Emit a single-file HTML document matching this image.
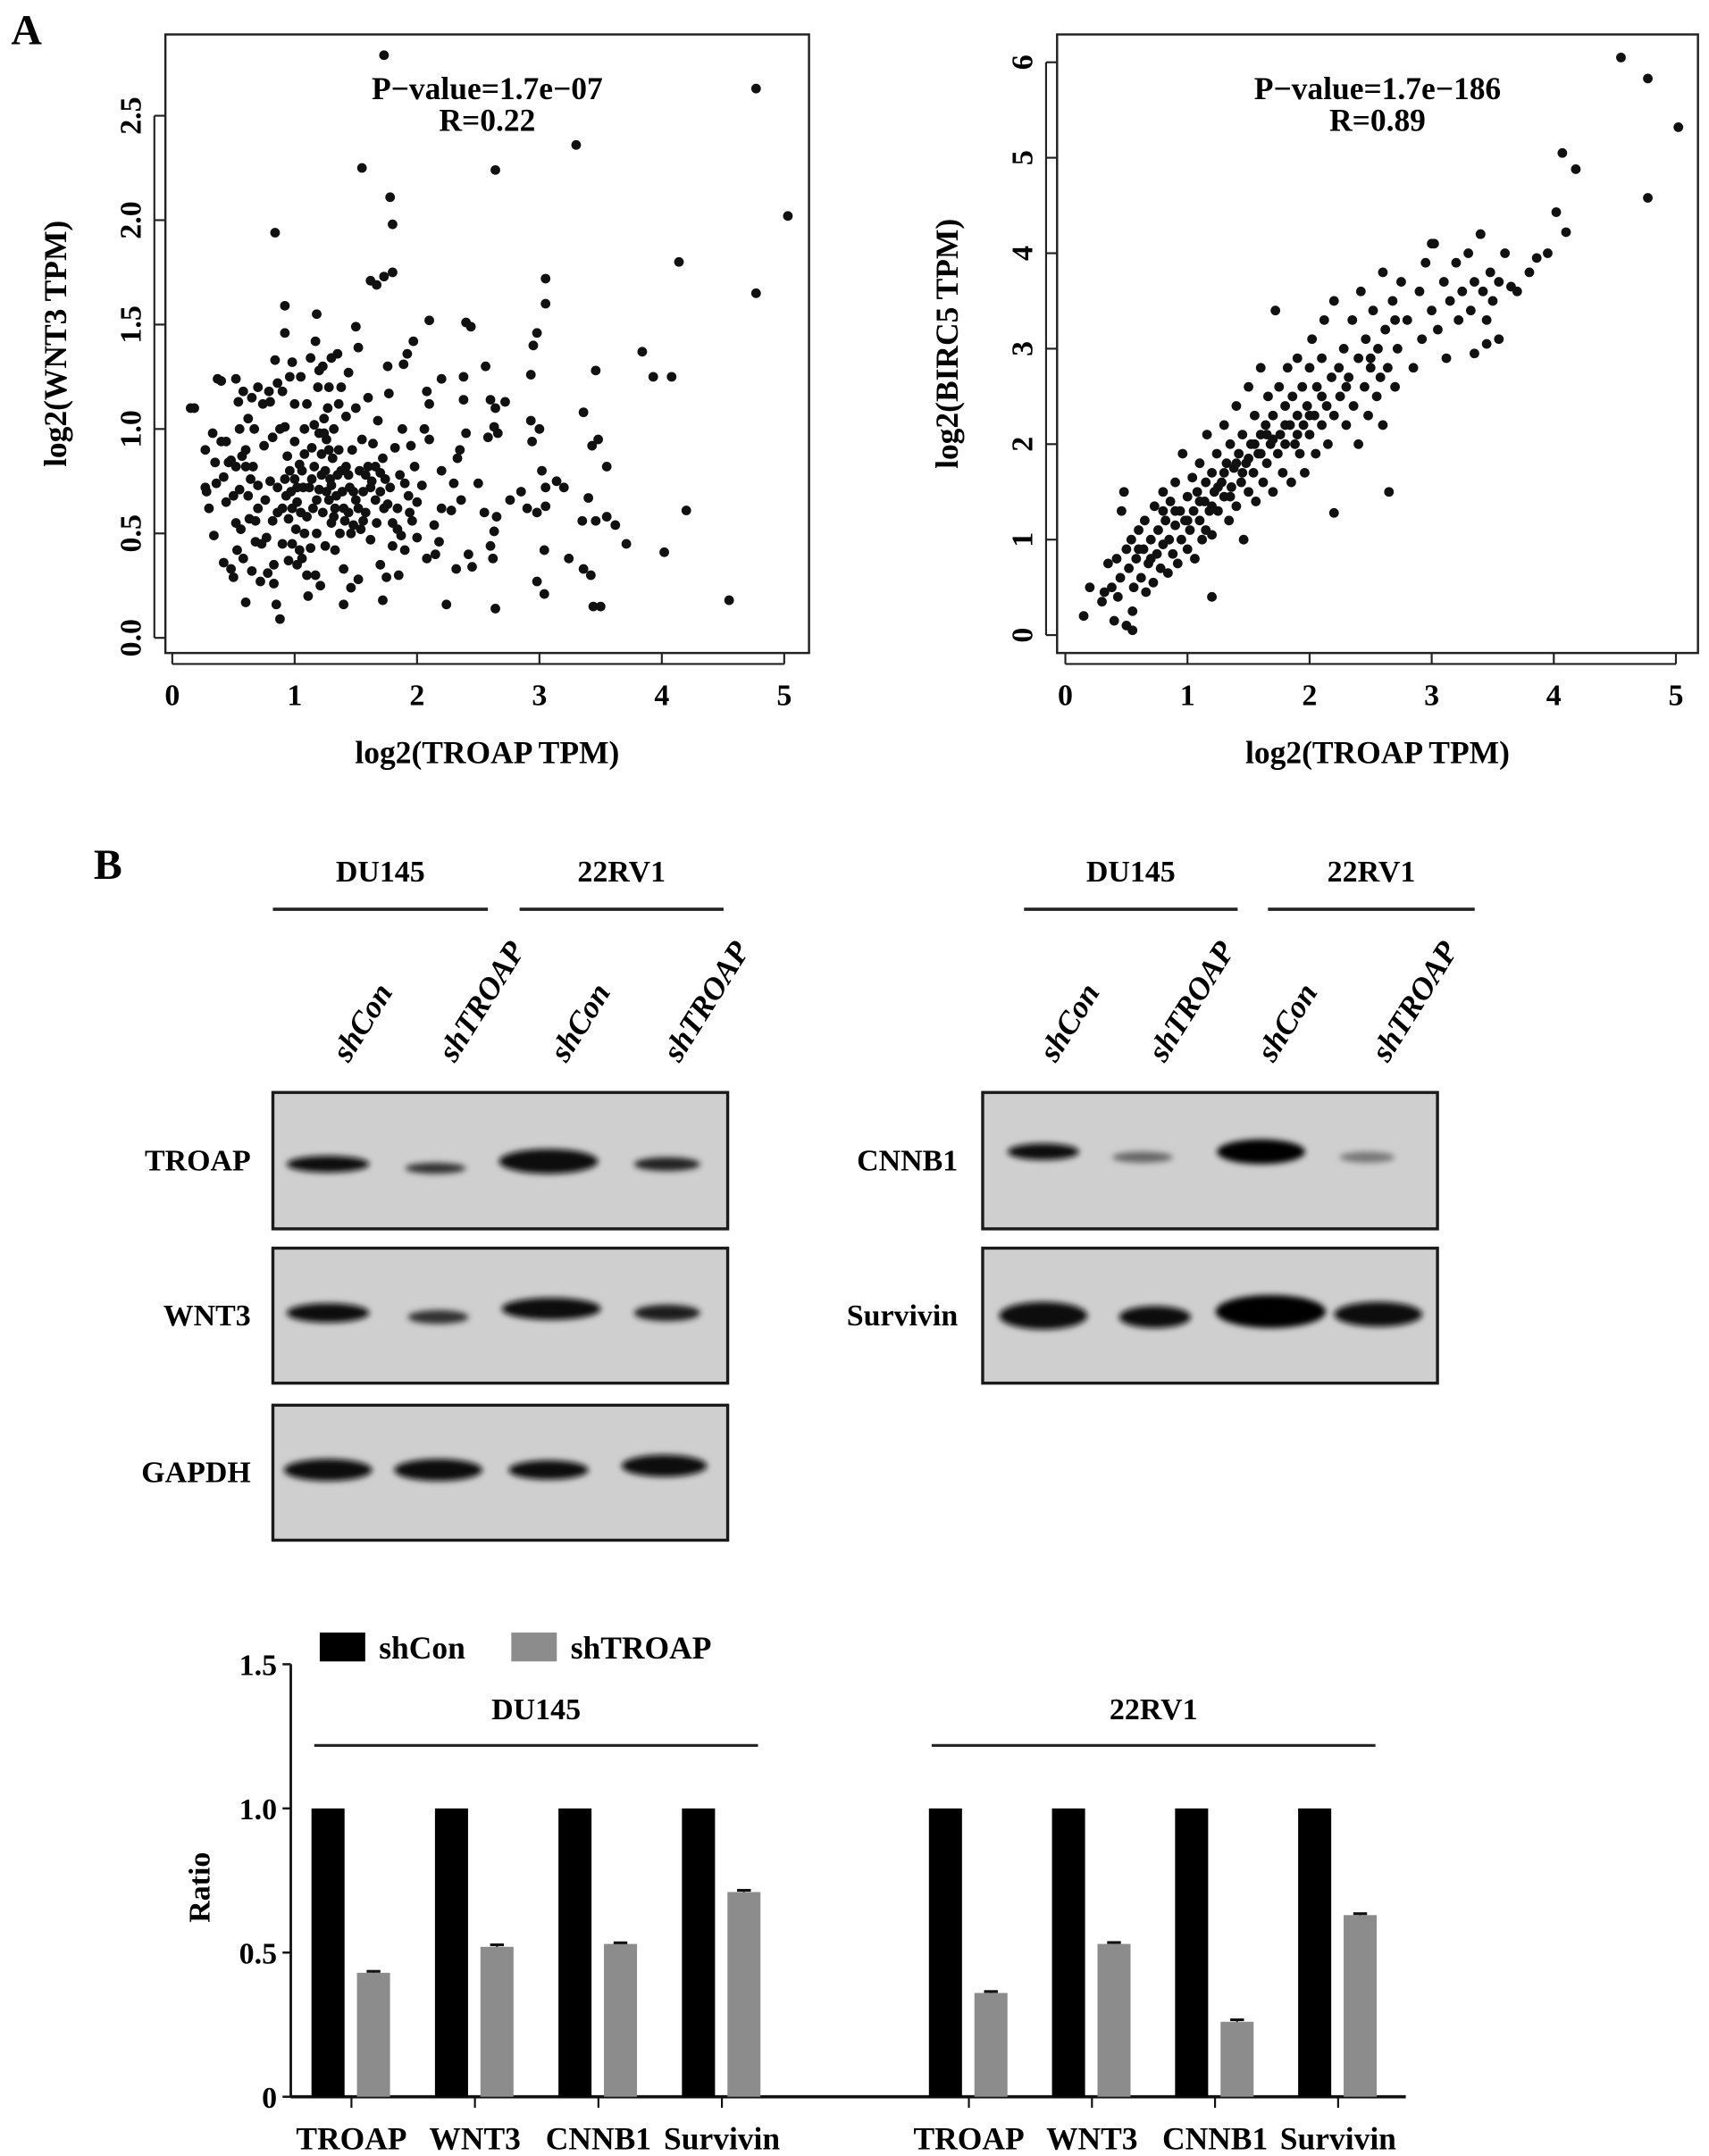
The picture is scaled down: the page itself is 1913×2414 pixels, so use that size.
<!DOCTYPE html>
<html><head><meta charset="utf-8"><style>
html,body{margin:0;padding:0;background:#fff;}
svg{display:block;font-family:"Liberation Serif",serif;font-weight:bold;}
</style></head><body>
<svg id="fig" width="1913" height="2414" viewBox="0 0 1240 1565" preserveAspectRatio="none" xmlns="http://www.w3.org/2000/svg">
<defs>
<filter id="blur" x="-30%" y="-80%" width="160%" height="260%"><feGaussianBlur stdDeviation="2.2"/></filter>
</defs>
<text x="8" y="32" font-size="31">A</text>
<text x="68" y="638" font-size="31">B</text>
<g id="scatterL"></g>
<g id="scatterR"></g>
<g id="blots"></g>
<g id="bars"></g>
</svg>
<script>
const NS="http://www.w3.org/2000/svg";
function mk(parent,tag,attrs,text){const e=document.createElementNS(NS,tag);for(const k in attrs)e.setAttribute(k,attrs[k]);if(text!==undefined)e.textContent=text;parent.appendChild(e);return e;}

// ---------- Scatter data ----------
const leftPoints=[1.73,2.79,4.77,2.63,3.3,2.36,1.55,2.25,2.64,2.24,1.78,2.11,1.8,1.98,5.03,2.02,0.84,1.94,4.14,1.8,1.8,1.75,1.73,1.73,3.05,1.72,1.62,1.71,1.67,1.69,4.77,1.65,3.05,1.6,0.92,1.59,2.1,1.52,1.18,1.55,1.5,1.49,2.4,1.51,2.44,1.49,2.98,1.46,0.92,1.46,3.84,1.37,3.93,1.25,4.08,1.25,3.46,1.28,4.2,0.61,4.02,0.41,4.55,0.18,3.71,0.45,3.62,0.54,3.55,0.58,3.55,0.82,3.48,0.95,3.43,0.92,3.36,1.08,3.4,0.67,3.35,0.56,3.46,0.56,3.42,0.3,3.44,0.15,3.5,0.15,3.36,0.33,3.24,0.38,3.2,0.72,3.14,0.75,3.05,0.72,3.05,0.63,3.04,0.42,3.02,0.8,3.0,1.0,2.94,0.94,2.93,1.04,2.93,1.26,2.95,1.4,2.98,0.6,2.9,0.62,2.98,0.27,3.04,0.21,2.85,0.7,2.76,0.66,2.72,1.13,2.66,0.98,2.63,1.01,2.65,0.58,2.63,0.51,2.62,0.38,2.64,0.14,2.6,0.44,2.58,0.96,2.56,1.3,2.6,1.14,2.64,1.1,2.5,0.74,2.55,0.6,2.45,0.34,2.42,0.4,2.4,0.98,2.38,1.25,2.38,1.14,2.35,0.9,2.33,0.86,2.36,0.66,2.3,0.74,2.28,0.61,2.32,0.33,2.24,0.16,2.2,0.8,2.2,0.62,2.18,0.46,2.14,0.54,2.15,0.4,2.08,0.38,2.1,1.12,2.08,1.18,2.06,1.0,2.04,0.73,2.1,0.95,2.2,1.24,
0.15,1.1,0.18,1.1,0.27,0.9,0.27,0.72,0.28,0.7,0.3,0.62,0.33,0.98,0.34,0.49,0.35,0.84,0.36,0.74,0.37,1.24,0.4,1.23,0.4,0.94,0.42,0.36,0.42,0.77,0.44,0.94,0.44,0.65,0.46,0.84,0.48,0.85,0.48,0.33,0.5,0.29,0.5,0.68,0.52,1.24,0.52,0.82,0.52,0.55,0.53,0.42,0.54,1.13,0.55,1.0,0.55,0.71,0.56,0.52,0.57,0.87,0.58,1.18,0.58,0.38,0.6,0.17,0.6,0.9,0.62,1.05,0.62,0.68,0.63,0.57,0.65,1.15,0.65,0.32,0.66,0.82,0.67,1.0,0.68,0.46,0.68,0.56,0.7,1.2,0.7,0.73,0.7,0.62,0.72,0.27,0.73,0.45,0.74,1.12,0.75,0.92,0.77,0.48,0.78,0.31,0.79,1.18,0.8,0.75,0.8,1.13,0.82,0.96,0.82,0.56,0.83,0.35,0.83,0.26,0.84,1.33,0.85,0.16,0.86,1.22,0.86,0.72,0.88,1.0,0.88,0.09,0.9,1.18,0.9,0.62,0.9,0.45,0.92,1.01,0.93,0.68,0.94,0.87,0.95,0.57,0.95,0.37,0.96,1.25,0.97,0.7,0.98,1.32,0.98,0.45,1.0,0.94,1.0,0.76,1.0,1.12,1.01,0.52,1.02,0.35,1.02,0.65,1.04,0.83,1.04,0.42,1.05,1.25,1.05,0.6,1.06,0.38,1.07,0.72,1.08,0.88,1.08,0.5,1.1,1.12,1.1,0.3,1.11,0.2,1.12,0.72,1.13,1.34,1.13,0.43,1.14,0.91,1.15,0.62,1.16,0.82,1.17,1.42,1.17,0.3,1.18,0.5,1.19,1.2,1.2,0.98,1.2,0.71,1.21,0.25,1.22,0.88,1.23,1.3,1.23,0.6,1.24,1.05,1.25,0.8,1.25,0.44,1.26,0.95,1.27,1.1,1.28,0.66,1.29,0.76,1.3,1.34,1.3,0.55,1.31,0.86,1.32,1.0,1.33,0.62,1.33,0.42,1.35,0.78,1.35,1.36,1.36,0.9,1.37,0.5,1.38,1.2,1.39,0.7,1.4,0.33,1.4,0.16,1.41,0.56,1.42,1.06,1.42,0.82,1.44,0.6,1.44,1.27,1.45,0.72,1.46,0.24,1.47,0.9,1.48,0.54,1.5,1.1,1.5,0.66,1.52,1.39,1.52,0.28,1.53,0.8,1.54,0.52,1.55,0.95,1.56,0.7,1.58,0.6,1.6,1.15,1.6,0.82,1.62,0.47,1.63,0.75,1.64,0.93,1.66,0.66,1.67,0.55,1.68,1.04,1.7,0.79,1.7,0.35,1.72,0.18,1.73,0.62,1.74,0.76,1.75,0.29,1.76,1.3,1.77,1.17,1.78,0.72,1.8,0.44,1.8,0.55,1.82,0.91,1.84,0.62,1.85,0.3,1.86,0.78,1.87,0.49,1.88,1.0,1.89,1.31,1.9,0.42,1.92,1.36,1.93,0.68,1.95,0.92,1.96,0.56,1.97,1.42,1.98,0.82,2.0,0.65,2.0,0.48,
1.22,0.78,1.26,0.7,1.3,0.73,1.34,0.68,1.38,0.8,1.28,0.9,1.18,0.66,1.14,0.76,1.44,0.78,1.48,0.7,1.52,0.62,1.58,0.78,1.62,0.72,1.66,0.82,1.7,0.7,1.06,0.8,1.02,0.72,0.96,0.8,0.92,0.76,1.24,0.98,1.32,0.58,1.4,0.62,1.46,0.5,1.56,0.56,1.1,0.58,0.98,0.62,0.86,0.6,0.76,0.66,0.64,0.76,0.6,0.82,1.16,1.02,1.08,1.0,1.36,1.12,1.28,1.2,1.2,1.28,1.9,0.74,1.94,0.6,1.84,0.52,1.76,0.64,1.72,0.86];
const rightPoints=[4.55,6.05,4.77,5.83,5.02,5.32,4.07,5.05,4.18,4.88,4.77,4.58,4.02,4.43,4.1,4.22,3.95,4.0,3.8,3.8,3.86,3.95,3.7,3.6,3.55,3.1,3.45,3.05,3.35,2.95,3.0,4.1,3.4,4.2,2.65,1.5,2.2,1.28,1.2,0.4,0.55,0.05,0.5,0.1,
0.15,0.2,0.2,0.5,0.3,0.35,0.32,0.45,0.35,0.75,0.38,0.5,0.4,0.15,0.42,0.8,0.43,0.4,0.45,0.6,0.46,1.3,0.48,1.5,0.5,0.9,0.52,0.7,0.54,1.0,0.55,0.25,0.56,0.5,0.58,0.8,0.6,1.1,0.62,0.6,0.64,0.9,0.65,1.2,0.66,0.45,0.68,0.75,0.7,1.0,0.72,0.55,0.73,1.35,0.75,0.85,0.76,1.1,0.78,0.7,0.8,1.5,0.8,0.95,0.82,1.2,0.84,0.65,0.85,1.0,0.86,1.4,0.88,0.85,0.9,1.15,0.9,1.6,0.92,0.75,0.94,1.3,0.95,1.0,0.96,1.9,0.98,1.2,1.0,0.9,1.0,1.45,1.02,1.1,1.04,1.65,1.05,1.3,1.06,0.8,1.08,1.5,1.1,1.2,1.1,1.8,1.12,1.0,1.14,1.4,1.15,1.6,1.16,2.1,1.18,1.3,1.2,1.7,1.2,1.05,1.22,1.5,1.24,1.9,1.25,1.3,1.28,1.6,1.3,2.2,1.3,1.45,1.32,1.8,1.34,1.2,1.35,2.0,1.36,1.55,1.38,1.75,1.4,2.4,1.4,1.35,1.42,1.9,1.44,1.6,1.45,2.1,1.46,1.0,1.48,1.8,1.5,2.6,1.5,1.5,1.52,2.0,1.54,1.7,1.55,2.3,1.56,1.4,1.58,1.9,1.6,2.1,1.6,2.8,1.62,1.6,1.64,2.2,1.65,1.8,1.66,2.5,1.68,2.0,1.7,1.5,1.7,2.3,1.72,3.4,1.74,1.9,1.75,2.6,1.76,2.1,1.78,1.7,1.8,2.4,1.8,2.0,1.82,2.8,1.84,2.2,1.85,1.6,1.86,2.5,1.88,2.0,1.9,2.3,1.9,2.9,1.92,1.9,1.94,2.6,1.95,2.2,1.96,1.7,1.98,2.4,2.0,2.8,2.0,2.1,2.02,3.1,2.04,2.3,2.05,1.9,2.06,2.6,2.1,2.2,2.1,2.9,2.12,3.3,2.14,2.4,2.15,2.0,2.18,2.7,2.2,2.3,2.2,3.5,2.24,2.8,2.25,2.5,2.28,3.0,2.3,2.2,2.32,2.7,2.35,3.3,2.36,2.4,2.4,2.9,2.4,2.0,2.42,3.6,2.45,2.6,2.46,3.1,2.48,2.3,2.5,2.8,2.52,3.4,2.55,2.5,2.56,3.0,2.58,2.7,2.6,3.8,2.6,2.2,2.62,3.2,2.64,2.8,2.68,3.5,2.7,2.6,2.72,3.0,2.75,3.7,2.8,3.3,2.85,2.8,2.9,3.6,2.92,3.1,2.95,3.9,3.0,3.4,3.02,4.1,3.05,3.2,3.1,3.7,3.12,2.9,3.15,3.5,3.2,3.9,3.22,3.3,3.25,3.6,3.3,4.0,3.32,3.4,3.35,3.7,3.4,4.2,3.42,3.6,3.45,3.3,3.48,3.8,3.5,3.5,3.55,3.7,3.6,4.0,3.65,3.65,
0.9,1.3,1.0,1.2,1.1,1.4,1.2,1.35,1.3,1.7,1.4,1.8,1.5,1.85,1.6,1.9,1.7,2.05,1.8,2.2,1.9,2.1,2.0,2.3,1.15,1.1,1.25,1.55,1.35,1.45,1.45,1.7,1.55,2.0,1.65,2.1,0.7,0.8,0.8,1.3,0.6,0.9,2.1,2.5,2.3,2.6,2.5,2.9,2.7,3.3];
const leftXTicks=[0,1,2,3,4,5];
const leftYTicks=["0.0","0.5","1.0","1.5","2.0","2.5"];
const rightXTicks=[0,1,2,3,4,5];
const rightYTicks=[0,1,2,3,4,5,6];

function scatter(g,o){
  const sx=v=>o.x0+v*o.xu, sy=v=>o.y0-v*o.yu;
  const fr=mk(g,'rect',{x:o.fx,y:o.fy,width:o.fw,height:o.fh,fill:'none',stroke:'#222','stroke-width':1.6});
  
  
  o.xt.forEach(t=>{
    mk(g,'line',{x1:sx(t),x2:sx(t),y1:o.fy+o.fh,y2:o.fy+o.fh+8,stroke:'#222','stroke-width':1.4});
    const tx=mk(g,'text',{x:sx(t),y:o.fy+o.fh+38,'font-size':22,'text-anchor':'middle'},String(t));
    
    
  });
  mk(g,'line',{x1:sx(o.xt[0]),x2:sx(o.xt[o.xt.length-1]),y1:o.fy+o.fh+8,y2:o.fy+o.fh+8,stroke:'#222','stroke-width':1.4});
  o.yt.forEach(t=>{
    const v=parseFloat(t);
    mk(g,'line',{x1:o.fx,x2:o.fx-8,y1:sy(v),y2:sy(v),stroke:'#222','stroke-width':1.4});
    const ty=mk(g,'text',{x:o.fx-18,y:sy(v),'font-size':22,'text-anchor':'middle',transform:`rotate(-90 ${o.fx-18} ${sy(v)})`},String(t));
    
    
  });
  const v0=parseFloat(o.yt[0]),v1=parseFloat(o.yt[o.yt.length-1]);
  mk(g,'line',{x1:o.fx-8,x2:o.fx-8,y1:sy(v0),y2:sy(v1),stroke:'#222','stroke-width':1.4});
  for(let i=0;i<o.pts.length;i+=2){
    const c=mk(g,'circle',{cx:sx(o.pts[i]),cy:sy(o.pts[i+1]),r:3.5,fill:'#111'});
    
    
  }
  const xl=mk(g,'text',{x:o.fx+o.fw/2,y:o.fy+o.fh+80,'font-size':23,'text-anchor':'middle'},'log2(TROAP TPM)');
  
  
  const yx=o.fx-72, yy=o.fy+o.fh/2;
  const yl=mk(g,'text',{x:yx,y:yy,'font-size':23,'text-anchor':'middle',transform:`rotate(-90 ${yx} ${yy})`},o.ylab);
  
  
  const p1=mk(g,'text',{x:o.fx+o.fw/2,y:72,'font-size':23,'text-anchor':'middle'},o.pv);
  
  
  const p2=mk(g,'text',{x:o.fx+o.fw/2,y:95,'font-size':23,'text-anchor':'middle'},o.r);
  
  
}
scatter(document.getElementById('scatterL'),{fx:120,fy:25,fw:467,fh:449,x0:125,xu:88.8,y0:463,yu:151.6,xt:leftXTicks,yt:leftYTicks,pts:leftPoints,ylab:'log2(WNT3 TPM)',pv:'P\u2212value=1.7e\u221207',r:'R=0.22'});
scatter(document.getElementById('scatterR'),{fx:767,fy:25,fw:465,fh:449,x0:773,xu:88.6,y0:461,yu:69.3,xt:rightXTicks,yt:rightYTicks.map(String),pts:rightPoints,ylab:'log2(BIRC5 TPM)',pv:'P\u2212value=1.7e\u2212186',r:'R=0.89'});

// ---------- Blots ----------
const bg=document.getElementById('blots');
function groupHdr(label,x1,x2){
  const t=mk(bg,'text',{x:(x1+x2)/2,y:640,'font-size':22,'text-anchor':'middle'},label);
  
  
  mk(bg,'line',{x1:x1,x2:x2,y1:660,y2:660,stroke:'#222','stroke-width':2.4});
}
groupHdr('DU145',198,354);groupHdr('22RV1',377,525);groupHdr('DU145',743,898);groupHdr('22RV1',920,1070);
const laneNames=['shCon','shTROAP','shCon','shTROAP'];
function laneLabels(xs){
  xs.forEach((x,i)=>{
    const t=mk(bg,'text',{x:x,y:772,'font-size':23,'font-style':'italic',transform:`rotate(-58 ${x} 772)`},laneNames[i]);
    
    
  });
}
laneLabels([253,330,411,493]);laneLabels([766,845,924,1007]);
function blot(x,y,w,h,label,lx,bands){
  const r=mk(bg,'rect',{x:x,y:y,width:w,height:h,fill:'#cfcfcf',stroke:'#1a1a1a','stroke-width':2.2});
  
  
  bands.forEach(b=>{mk(bg,'ellipse',{cx:b[0],cy:b[1],rx:b[2],ry:b[3],fill:b[4],filter:'url(#blur)'});});
  const t=mk(bg,'text',{x:lx,y:y+h/2+7,'font-size':22,'text-anchor':'end'},label);
  
  
}
blot(198,793,330,99,'TROAP',182,[[238,845,30,6,'#111'],[316,848,22,4,'#333'],[398,843,36,9,'#0a0a0a'],[484,845,24,5,'#222']]);
blot(198,906,330,98,'WNT3',182,[[238,953,30,7,'#111'],[318,956,22,5,'#333'],[400,950,36,8,'#0a0a0a'],[484,953,24,6,'#1a1a1a']]);
blot(198,1020,330,98,'GAPDH',182,[[238,1067,32,8,'#080808'],[318,1067,32,8,'#080808'],[398,1067,29,7,'#0a0a0a'],[482,1064,31,8,'#080808']]);
blot(713,793,330,99,'CNNB1',695,[[757,836,26,6,'#111'],[829,840,22,4,'#666'],[915,836,32,9,'#050505'],[992,840,20,4,'#777']]);
blot(713,906,330,98,'Survivin',695,[[757,955,32,10,'#080808'],[838,956,26,8,'#111'],[922,952,40,12,'#000'],[1000,954,32,9,'#0a0a0a']]);

// ---------- Bar chart ----------
const barCats=['TROAP','WNT3','CNNB1','Survivin','TROAP','WNT3','CNNB1','Survivin'];
const shConVals=[1,1,1,1,1,1,1,1];
const shTROAPVals=[0.43,0.52,0.53,0.71,0.36,0.53,0.26,0.63];
const shTROAPErr=[0.005,0.007,0.004,0.006,0.005,0.005,0.007,0.005];
const yTickVals=[0,0.5,1.0,1.5];
const yTickLabels=['0','0.5','1.0','1.5'];
const g=document.getElementById('bars');
const ax={x:211,y0:1522,unit:209.3};
const yS=v=>ax.y0-v*ax.unit;
const pairX=i=>(i<4?255+i*89.6:703+(i-4)*89.3);
mk(g,'line',{x1:ax.x,x2:ax.x,y1:yS(1.5),y2:yS(0),stroke:'#111','stroke-width':1.8});
mk(g,'line',{x1:ax.x,x2:1020,y1:yS(0),y2:yS(0),stroke:'#111','stroke-width':2.4});
yTickVals.forEach((v,i)=>{
  mk(g,'line',{x1:ax.x-6,x2:ax.x,y1:yS(v),y2:yS(v),stroke:'#111','stroke-width':1.6});
  const t=mk(g,'text',{x:ax.x-10,y:yS(v)+8,'font-size':22,'text-anchor':'end'},yTickLabels[i]);
  
  
});
const rl=mk(g,'text',{x:152,y:1370,'font-size':22,'text-anchor':'middle',transform:'rotate(-90 152 1370)'},'Ratio');


barCats.forEach((c,i)=>{
  const cx=pairX(i);
  const b1=mk(g,'rect',{x:cx-29,y:yS(shConVals[i]),width:24,height:yS(0)-yS(shConVals[i]),fill:'#000'});
  
  
  const b2=mk(g,'rect',{x:cx+4,y:yS(shTROAPVals[i]),width:24,height:yS(0)-yS(shTROAPVals[i]),fill:'#8c8c8c'});
  
  
  const e=shTROAPErr[i];
  mk(g,'line',{x1:cx+16,x2:cx+16,y1:yS(shTROAPVals[i]+e),y2:yS(shTROAPVals[i]),stroke:'#111','stroke-width':1.5});
  mk(g,'line',{x1:cx+11,x2:cx+21,y1:yS(shTROAPVals[i]+e),y2:yS(shTROAPVals[i]+e),stroke:'#111','stroke-width':2});
  mk(g,'line',{x1:cx,x2:cx,y1:yS(0),y2:yS(0)+8,stroke:'#111','stroke-width':1.4});
  const t=mk(g,'text',{x:cx,y:1560,'font-size':23,'text-anchor':'middle'},c);
  
  
});
[['DU145',228,550],['22RV1',676,998]].forEach(d=>{
  const t=mk(g,'text',{x:(d[1]+d[2])/2,y:1248,'font-size':22,'text-anchor':'middle'},d[0]);
  
  
  mk(g,'line',{x1:d[1],x2:d[2],y1:1267,y2:1267,stroke:'#222','stroke-width':2});
});
const l1=mk(g,'rect',{x:232,y:1185,width:33,height:21,fill:'#000'});


const l1t=mk(g,'text',{x:275,y:1204,'font-size':23},'shCon');


const l2=mk(g,'rect',{x:371,y:1185,width:33,height:21,fill:'#8c8c8c'});


const l2t=mk(g,'text',{x:414,y:1204,'font-size':23},'shTROAP');


</script>
</body></html>
